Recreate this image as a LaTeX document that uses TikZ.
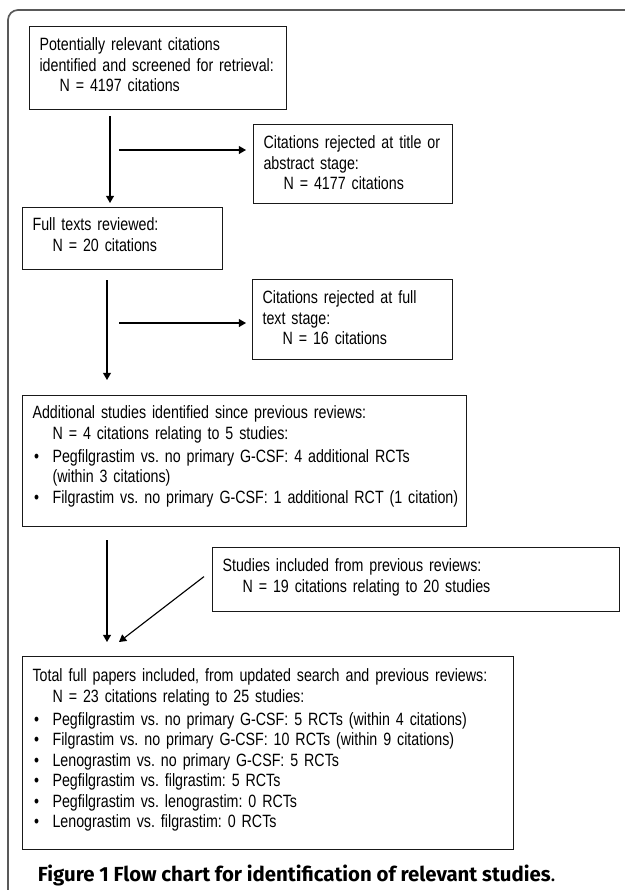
\documentclass[tikz,border=0pt]{standalone}
\usepackage{fontspec}
\setmainfont{Liberation Sans}[FakeStretch=0.80]
\newfontfamily\capfont{Fira Sans}
\usetikzlibrary{arrows.meta}

\newcommand{\Nline}{\hspace*{0.5cm}}
\newcommand{\bitem}{\par\hangindent=0.5cm\hangafter=1\makebox[0.5cm][l]{\hspace{0.04cm}\textbullet}}

\begin{document}
\begin{tikzpicture}[x=0.025cm, y=-0.025cm,
    font=\fontsize{12.66pt}{14.58pt}\selectfont,
    box/.style={draw=black!90, line width=0.8pt, anchor=north west, align=left, inner xsep=0.25cm, inner ysep=0pt,
        execute at begin node={\rightskip=-2cm plus 1fil\relax\frenchspacing}},
    flow/.style={draw=black, line width=0.8pt, -{Triangle[length=0.18cm,width=0.2cm]}},
    outerframe/.style={draw=black!65, line width=1.2pt, rounded corners=0.25cm}]
    \useasboundingbox (0,0) rectangle (625,890);
    \draw[outerframe] (625,10) -- (8,10) -- (8,890);

    \node[box, text width=5.925cm, text height=0.6cm, text depth=1.475cm] (screen) at (29,26) {Potentially relevant citations\\identified and screened for retrieval:\\\Nline N = 4197 citations};
    \node[box, text width=4.475cm, text height=0.6cm, text depth=1.375cm] (rejabs) at (253,124) {Citations rejected at title or\\abstract stage:\\\Nline N = 4177 citations};
    \node[box, text width=4.5cm, text height=0.575cm, text depth=0.975cm] (fulltext) at (22,207) {Full texts reviewed:\\\Nline N = 20 citations};
    \node[box, text width=4.5cm, text height=0.6cm, text depth=1.4cm] (rejfull) at (252,279) {Citations rejected at full\\text stage:\\\Nline N = 16 citations};
    \node[box, text width=10.6cm, text height=0.575cm, text depth=2.7cm] (additional) at (22,395) {Additional studies identified since previous reviews:\\\Nline N = 4 citations relating to 5 studies:\par\vspace{2pt}
        \bitem Pegfilgrastim vs. no primary G-CSF: 4 additional RCTs\newline (within 3 citations)
        \bitem Filgrastim vs. no primary G-CSF: 1 additional RCT (1 citation)};
    \node[box, text width=9.675cm, text height=0.6cm, text depth=1.0cm] (previous) at (212,547) {Studies included from previous reviews:\\\Nline N = 19 citations relating to 20 studies};
    \node[box, text width=11.775cm, text height=0.625cm, text depth=4.2cm] (total) at (22,656) {Total full papers included, from updated search and previous reviews:\\\Nline N = 23 citations relating to 25 studies:\par\vspace{2pt}
        \bitem Pegfilgrastim vs. no primary G-CSF: 5 RCTs (within 4 citations)
        \bitem Filgrastim vs. no primary G-CSF: 10 RCTs (within 9 citations)
        \bitem Lenograstim vs. no primary G-CSF: 5 RCTs
        \bitem Pegfilgrastim vs. filgrastim: 5 RCTs
        \bitem Pegfilgrastim vs. lenograstim: 0 RCTs
        \bitem Lenograstim vs. filgrastim: 0 RCTs};
    \node[anchor=base west, font=\capfont\fontsize{14.5pt}{16pt}\selectfont] (caption) at (33,881) {\textbf{Figure 1 Flow chart for identification of relevant studies}.};

    % where the arrows run
    \coordinate (spineA) at (110,0);
    \coordinate (spineB) at (107,0);
    \coordinate (branchA) at (119,150);
    \coordinate (branchB) at (119,323);
    \coordinate (merge) at (119,642);

    \draw[flow, shorten <=0.15cm, shorten >=0.1cm] (screen.south -| spineA) -- (fulltext.north -| spineA);
    \draw[flow, shorten >=0.175cm] (branchA) -- (branchA -| rejabs.west);
    \draw[flow, shorten <=0.25cm, shorten >=0.375cm] (fulltext.south -| spineB) -- (additional.north -| spineB);
    \draw[flow, shorten >=0.15cm] (branchB) -- (branchB -| rejfull.west);
    \draw[flow, shorten <=0.325cm, shorten >=0.35cm] (additional.south -| spineB) -- (total.north -| spineB);
    \draw[flow] ([shift={(-8,-3)}]previous.west) -- (merge);
\end{tikzpicture}
\end{document}
